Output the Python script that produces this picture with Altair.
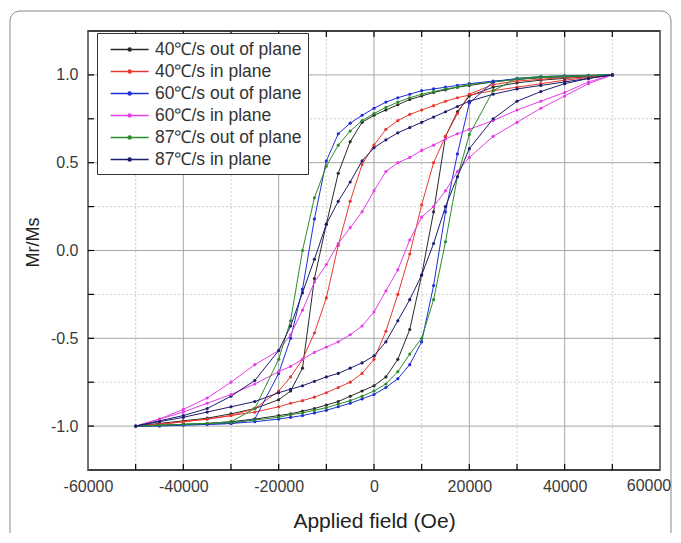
import altair as alt
import pandas as pd

SERIES = ["40℃/s out of plane", "40℃/s in plane", "60℃/s out of plane",
          "60℃/s in plane", "87℃/s out of plane", "87℃/s in plane"]
COLORS = ["#2a2a2a", "#e8392f", "#1f2ed6", "#e53ee6", "#2b8c2b", "#1d1d6e"]

H_DESC = [50000, 45000, 40000, 35000, 30000, 25000, 20000, 17500, 15000, 12500, 10000,
          7500, 5000, 2500, 0, -2500, -5000, -7500, -10000, -12500, -15000, -17500,
          -20000, -25000, -30000, -35000, -40000, -45000, -50000]
H_ASC = list(reversed(H_DESC))

# descending branch (+50000 -> -50000)
DESC_40_OUT = [1.0, 0.995, 0.99, 0.985, 0.975, 0.96, 0.94, 0.93, 0.915, 0.9, 0.88, 0.86, 0.83, 0.80,
               0.77, 0.73, 0.62, 0.44, 0.15, -0.16, -0.67, -0.80, -0.85, -0.90, -0.93, -0.955, -0.97, -0.985, -1.0]
DESC_40_IN = [1.0, 0.985, 0.97, 0.95, 0.93, 0.91, 0.885, 0.87, 0.85, 0.825, 0.80, 0.775, 0.74, 0.69,
              0.60, 0.49, 0.28, 0.03, -0.27, -0.47, -0.62, -0.72, -0.80, -0.90, -0.94, -0.96, -0.975, -0.99, -1.0]
DESC_60_OUT = [1.0, 0.995, 0.99, 0.985, 0.975, 0.965, 0.95, 0.94, 0.93, 0.92, 0.91, 0.89, 0.87, 0.845,
               0.81, 0.77, 0.725, 0.665, 0.51, 0.18, -0.22, -0.50, -0.70, -0.96, -0.985, -0.99, -0.995, -1.0, -1.0]
DESC_60_IN = [1.0, 0.96, 0.90, 0.85, 0.80, 0.74, 0.69, 0.665, 0.635, 0.60, 0.57, 0.53, 0.50, 0.45,
              0.34, 0.22, 0.13, 0.04, -0.08, -0.18, -0.34, -0.48, -0.57, -0.65, -0.75, -0.84, -0.905, -0.96, -1.0]
DESC_87_OUT = [1.0, 0.995, 0.99, 0.985, 0.975, 0.96, 0.945, 0.93, 0.92, 0.905, 0.89, 0.87, 0.845, 0.815,
               0.78, 0.74, 0.68, 0.60, 0.48, 0.30, 0.0, -0.40, -0.62, -0.90, -0.975, -0.985, -0.99, -0.995, -1.0]
DESC_87_IN = [1.0, 0.98, 0.96, 0.94, 0.92, 0.89, 0.85, 0.82, 0.79, 0.76, 0.73, 0.70, 0.67, 0.63,
              0.585, 0.51, 0.39, 0.28, 0.15, -0.05, -0.24, -0.43, -0.57, -0.74, -0.83, -0.90, -0.94, -0.97, -1.0]

# ascending branch (-50000 -> +50000)
ASC_40_OUT = [-1.0, -0.995, -0.99, -0.985, -0.975, -0.96, -0.94, -0.93, -0.915, -0.9, -0.88, -0.86, -0.83, -0.80,
              -0.77, -0.72, -0.62, -0.45, -0.14, 0.22, 0.65, 0.79, 0.88, 0.93, 0.955, 0.97, 0.98, 0.99, 1.0]
ASC_40_IN = [-1.0, -0.99, -0.975, -0.96, -0.94, -0.92, -0.89, -0.87, -0.855, -0.835, -0.81, -0.78, -0.75, -0.70,
             -0.62, -0.46, -0.25, -0.02, 0.26, 0.50, 0.65, 0.78, 0.89, 0.945, 0.965, 0.975, 0.985, 0.99, 1.0]
ASC_60_OUT = [-1.0, -0.997, -0.993, -0.99, -0.985, -0.975, -0.96, -0.95, -0.94, -0.925, -0.91, -0.89, -0.87, -0.845,
              -0.82, -0.78, -0.73, -0.65, -0.52, -0.20, 0.22, 0.55, 0.84, 0.96, 0.98, 0.99, 0.995, 0.998, 1.0]
ASC_60_IN = [-1.0, -0.96, -0.92, -0.87, -0.82, -0.76, -0.69, -0.66, -0.62, -0.58, -0.55, -0.52, -0.48, -0.43,
             -0.35, -0.23, -0.11, 0.06, 0.19, 0.25, 0.34, 0.45, 0.53, 0.65, 0.73, 0.81, 0.88, 0.95, 1.0]
ASC_87_OUT = [-1.0, -0.995, -0.99, -0.985, -0.98, -0.965, -0.95, -0.935, -0.925, -0.91, -0.895, -0.875, -0.855, -0.83,
              -0.80, -0.76, -0.69, -0.59, -0.50, -0.28, 0.05, 0.42, 0.66, 0.91, 0.98, 0.99, 0.993, 0.997, 1.0]
ASC_87_IN = [-1.0, -0.975, -0.95, -0.92, -0.89, -0.86, -0.81, -0.79, -0.77, -0.745, -0.72, -0.70, -0.67, -0.64,
             -0.60, -0.52, -0.40, -0.28, -0.14, 0.04, 0.25, 0.42, 0.58, 0.75, 0.85, 0.905, 0.95, 0.98, 1.0]

DESC = [DESC_40_OUT, DESC_40_IN, DESC_60_OUT, DESC_60_IN, DESC_87_OUT, DESC_87_IN]
ASC = [ASC_40_OUT, ASC_40_IN, ASC_60_OUT, ASC_60_IN, ASC_87_OUT, ASC_87_IN]

X_MAJOR = [-60000, -40000, -20000, 0, 20000, 40000, 60000]
X_MINOR = [-50000, -30000, -10000, 10000, 30000, 50000]
Y_MAJOR = [-1.0, -0.5, 0.0, 0.5, 1.0]
Y_MINOR = [-0.75, -0.25, 0.25, 0.75]
X_LAST_LABEL = [60000]

rows = []
for s, d, a in zip(SERIES, DESC, ASC):
    i = 0
    for h, m in zip(H_DESC, d):
        rows.append({"series": s, "H": h, "M": m, "i": i}); i += 1
    for h, m in zip(H_ASC[1:], a[1:]):
        rows.append({"series": s, "H": h, "M": m, "i": i}); i += 1
df = pd.DataFrame(rows)

W, HGT = 572, 439
FONT = "Liberation Sans"
xs = alt.Scale(domain=[-60000, 60000], nice=False, zero=False)
ys = alt.Scale(domain=[-1.25, 1.25], nice=False, zero=False)

xminor = pd.DataFrame({"t": X_MINOR})
yminor = pd.DataFrame({"t": Y_MINOR})
xmaj = pd.DataFrame({"t": X_MAJOR})
ymaj = pd.DataFrame({"t": Y_MAJOR})
xticks = pd.DataFrame({"t": X_MAJOR[1:-1] + X_MINOR})
yticks = pd.DataFrame({"t": Y_MAJOR + Y_MINOR})
xlast = pd.DataFrame({"t": X_LAST_LABEL, "lab": [str(v) for v in X_LAST_LABEL]})

minor_x = alt.Chart(xminor).mark_rule(color="#cccccc", strokeDash=[2, 2], strokeWidth=1).encode(
    x=alt.X("t:Q", scale=xs, axis=None))
minor_y = alt.Chart(yminor).mark_rule(color="#cccccc", strokeDash=[2, 2], strokeWidth=1).encode(
    y=alt.Y("t:Q", scale=ys, axis=None))
major_x = alt.Chart(xmaj).mark_rule(color="#a6a6a6", strokeWidth=1).encode(
    x=alt.X("t:Q", scale=xs, axis=None))
major_y = alt.Chart(ymaj).mark_rule(color="#a6a6a6", strokeWidth=1).encode(
    y=alt.Y("t:Q", scale=ys, axis=None))

# legend glyph: a line segment with a dot, shifted right of the symbol centre
sym = "M-0.3,0L3.7,0M1.53,0A0.17,0.17 0 1 1 1.87,0A0.17,0.17 0 1 1 1.53,0"

lines = alt.Chart(df).mark_line(strokeWidth=1, point=alt.OverlayMarkDef(size=10, filled=True)).encode(
    x=alt.X("H:Q", scale=xs,
            axis=alt.Axis(values=X_MAJOR, title="Applied field (Oe)", grid=False, ticks=False, domain=False,
                          labelExpr="datum.value == 60000 ? '' : '' + datum.value",
                          labelPadding=8, labelFontSize=16,
                          labelColor="#3a3a3a", labelFont=FONT, titleFont=FONT, titleFontSize=21,
                          titleFontWeight="normal", titleColor="#222", titlePadding=16,
                          labelFlush=False)),
    y=alt.Y("M:Q", scale=ys,
            axis=alt.Axis(values=Y_MAJOR, title="Mr/Ms", grid=False, ticks=False, domain=False,
                          labelExpr="replace(format(datum.value, '.1f'), '\u2212', '-')",
                          labelPadding=10, labelFontSize=16, labelColor="#3a3a3a", labelFont=FONT,
                          titleFont=FONT, titleFontSize=18, titleFontWeight="normal", titleColor="#222",
                          titlePadding=8, titleY=211, labelFlush=False)),
    color=alt.Color("series:N", scale=alt.Scale(domain=SERIES, range=COLORS), sort=SERIES,
                    legend=alt.Legend(title=None, orient="none", legendX=9, legendY=2,
                                      symbolType=sym, symbolSize=361, symbolStrokeWidth=1.3,
                                      labelFont=FONT, labelFontSize=17.5, labelColor="#333",
                                      strokeColor="#333", fillColor="white", padding=6,
                                      rowPadding=3, labelOffset=31)),
    order="i:Q",
    detail="series:N",
)

# last x tick label, nudged left so it stays inside the page
last_label = alt.Chart(xlast).mark_text(font=FONT, fontSize=16, color="#3a3a3a", baseline="top",
                                        align="center", dx=-11, clip=False).encode(
    x=alt.X("t:Q", scale=xs, axis=None), y=alt.value(HGT + 8), text="lab:N")

bx = alt.Chart(xticks).mark_rule(color="black", strokeWidth=1.2).encode(
    x=alt.X("t:Q", scale=xs, axis=None), y=alt.value(HGT), y2=alt.YValue(HGT - 6))
tx = alt.Chart(xticks).mark_rule(color="black", strokeWidth=1.2).encode(
    x=alt.X("t:Q", scale=xs, axis=None), y=alt.value(0), y2=alt.YValue(6))
ly = alt.Chart(yticks).mark_rule(color="black", strokeWidth=1.2).encode(
    y=alt.Y("t:Q", scale=ys, axis=None), x=alt.value(0), x2=alt.XValue(6))
ry = alt.Chart(yticks).mark_rule(color="black", strokeWidth=1.2).encode(
    y=alt.Y("t:Q", scale=ys, axis=None), x=alt.value(W), x2=alt.XValue(W - 6))

border = alt.Chart(pd.DataFrame({"a": [0]})).mark_rect(
    filled=False, stroke="#8a8a8a", strokeWidth=1, cornerRadius=10, clip=False).encode(
    x=alt.value(-78), x2=alt.XValue(583), y=alt.value(-20), y2=alt.YValue(620))

chart = alt.layer(border, minor_x, minor_y, major_x, major_y, lines, last_label,
                  bx, tx, ly, ry).resolve_axis(
    x="independent", y="independent"
).properties(
    width=W, height=HGT,
    autosize=alt.AutoSizeParams(type="none"),
    padding={"left": 80, "top": 23, "right": 13, "bottom": 63},
    background="white",
).configure_view(stroke="black", strokeWidth=1.5)

chart.save("out.html", embed_options={"renderer": "svg", "actions": False})
